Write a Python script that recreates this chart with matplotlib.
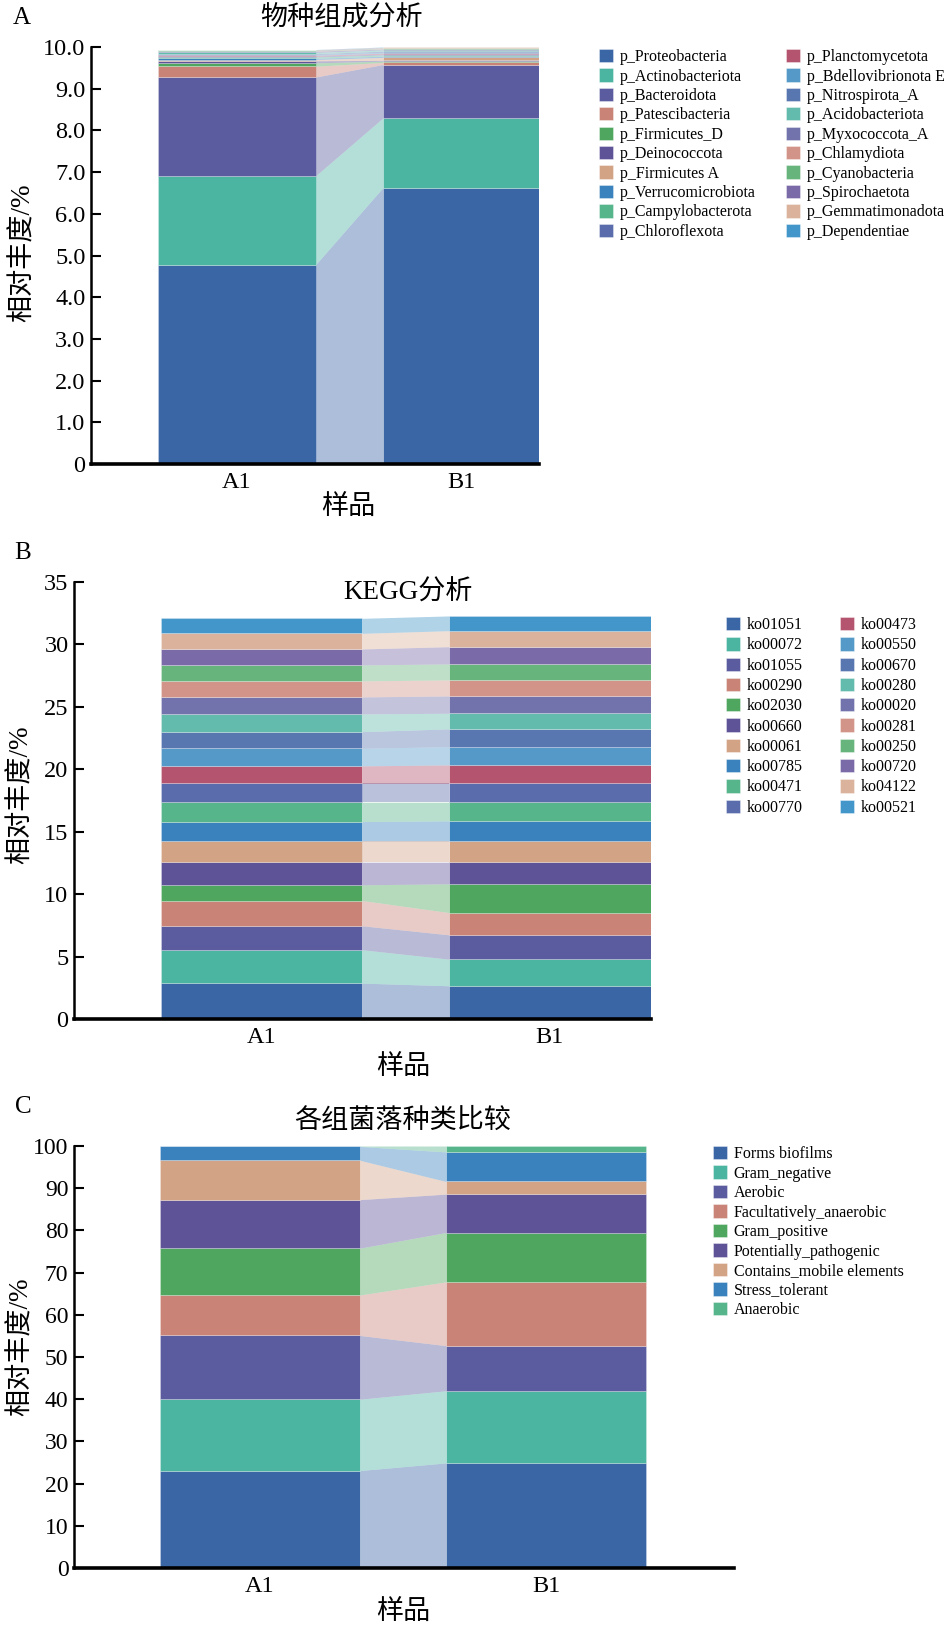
import matplotlib
matplotlib.use("Agg")
import matplotlib.pyplot as plt
from matplotlib.patches import Patch
import numpy as np

# ---------------- data ----------------
samples = ["A1", "B1"]

phyla = ["p_Proteobacteria", "p_Actinobacteriota", "p_Bacteroidota", "p_Patescibacteria",
         "p_Firmicutes_D", "p_Deinococcota", "p_Firmicutes A", "p_Verrucomicrobiota",
         "p_Campylobacterota", "p_Chloroflexota", "p_Planctomycetota", "p_Bdellovibrionota E",
         "p_Nitrospirota_A", "p_Acidobacteriota", "p_Myxococcota_A", "p_Chlamydiota",
         "p_Cyanobacteria", "p_Spirochaetota", "p_Gemmatimonadota", "p_Dependentiae"]
phyla_A1 = [4.78, 2.13, 2.37, 0.26, 0.08, 0.05, 0.03, 0.03, 0.03, 0.02,
            0.02, 0.02, 0.02, 0.03, 0.03, 0.01, 0.01, 0.01, 0.005, 0.005]
phyla_B1 = [6.63, 1.67, 1.28, 0.05, 0.03, 0.02, 0.07, 0.03, 0.03, 0.02,
            0.02, 0.02, 0.03, 0.03, 0.02, 0.01, 0.01, 0.01, 0.01, 0.01]

kegg = ["ko01051", "ko00072", "ko01055", "ko00290", "ko02030", "ko00660", "ko00061",
        "ko00785", "ko00471", "ko00770", "ko00473", "ko00550", "ko00670", "ko00280",
        "ko00020", "ko00281", "ko00250", "ko00720", "ko04122", "ko00521"]
kegg_A1 = [2.87, 2.67, 1.92, 2.02, 1.26, 1.81, 1.71, 1.54, 1.55, 1.50,
           1.41, 1.41, 1.33, 1.42, 1.36, 1.28, 1.28, 1.28, 1.25, 1.20]
kegg_B1 = [2.66, 2.13, 1.95, 1.78, 2.30, 1.73, 1.71, 1.60, 1.49, 1.50,
           1.49, 1.46, 1.42, 1.25, 1.39, 1.28, 1.28, 1.38, 1.28, 1.18]

traits = ["Forms biofilms", "Gram_negative", "Aerobic", "Facultatively_anaerobic",
          "Gram_positive", "Potentially_pathogenic", "Contains_mobile elements",
          "Stress_tolerant", "Anaerobic"]
trait_A1 = [23.1, 16.9, 15.1, 9.6, 11.1, 11.5, 9.3, 3.3, 0.1]
trait_B1 = [24.9, 17.1, 10.7, 15.1, 11.7, 9.1, 3.0, 7.0, 1.4]

A_yticks = [0, 1, 2, 3, 4, 5, 6, 7, 8, 9, 10]
A_yticklabels = ["0", "1.0", "2.0", "3.0", "4.0", "5.0", "6.0", "7.0", "8.0", "9.0", "10.0"]
B_yticks = [0, 5, 10, 15, 20, 25, 30, 35]
C_yticks = [0, 10, 20, 30, 40, 50, 60, 70, 80, 90, 100]

palette = ["#3A66A6", "#4BB5A2", "#5A5C9F", "#C98477", "#4FA65F", "#5F5398", "#D3A386",
           "#3A82BD", "#57B58C", "#5A6CAB", "#B5546E", "#5599C9", "#5877B0", "#63BBAD",
           "#7273AD", "#D29488", "#68B47D", "#7A6AA8", "#DBB39D", "#4396C9"]

# ---------------- style ----------------
SERIF = "Liberation Serif"
CJK = "Noto Sans CJK SC"
MIX = [SERIF, CJK]
plt.rcParams['font.family'] = MIX

W, H = 945, 1627
fig = plt.figure(figsize=(W / 100, H / 100), dpi=100)


def fx(px):
    return px / W


def fy(py):
    return 1 - py / H


BAR_W = 0.70


def stacked(ax, va, vb, colors):
    x = np.arange(len(samples))
    cum = np.zeros(2)
    for i in range(len(va)):
        h = np.array([va[i], vb[i]])
        ax.bar(x, h, BAR_W, bottom=cum, color=colors[i],
               edgecolor=(1, 1, 1, 0.35), linewidth=0.5, zorder=2)
        xa = x[0] + BAR_W / 2
        xb = x[1] - BAR_W / 2
        ax.fill_between([xa, xb], [cum[0], cum[1]], [cum[0] + h[0], cum[1] + h[1]],
                        color=colors[i], alpha=0.42, linewidth=0, zorder=1)
        cum = cum + h
    return x


def style_axes(ax, xlim_right, yticks, ylim_top, yticklabels=None, tick_fs=17.5):
    ax.set_xlim(-0.65, xlim_right)
    ax.set_ylim(0, ylim_top)
    for s in ["top", "right"]:
        ax.spines[s].set_visible(False)
    ax.spines["left"].set_linewidth(1.8)
    ax.spines["bottom"].set_linewidth(2.6)
    ax.set_yticks(yticks)
    if yticklabels is not None:
        ax.set_yticklabels(yticklabels)
    ax.tick_params(axis="y", direction="in", length=7, width=1.5, pad=4,
                   labelsize=tick_fs)
    ax.set_xticks(np.arange(len(samples)))
    ax.set_xticklabels(samples, fontsize=17.5, family=SERIF)
    ax.tick_params(axis="x", length=0, pad=6)
    for lab in ax.get_yticklabels():
        lab.set_family(SERIF)


def legend(names, colors, x, y, ncol, colspacing, spacing):
    handles = [Patch(facecolor=colors[i], edgecolor=(1, 1, 1, 0.5), linewidth=0.5,
                     label=names[i]) for i in range(len(names))]
    fig.legend(handles=handles, loc="upper left", bbox_to_anchor=(fx(x), fy(y)),
               ncol=ncol, frameon=False, borderpad=0, borderaxespad=0,
               handlelength=0.9, handleheight=0.9, handletextpad=0.4,
               labelspacing=spacing, columnspacing=colspacing,
               prop={"family": SERIF, "size": 11.5})


# ---------------- Panel A ----------------
axA = fig.add_axes([fx(91), fy(464), fx(539) - fx(91), (464 - 47) / H])
stacked(axA, phyla_A1, phyla_B1, palette)
style_axes(axA, 1.345, A_yticks, 10, A_yticklabels)
legend(phyla, palette, 599, 49, 2, 1.9, 0.205)
fig.text(fx(22), fy(18), "A", fontsize=18, family=SERIF, ha="center", va="center")
fig.text(fx(342), fy(19), "物种组成分析", fontsize=19.5, ha="center", va="center")
fig.text(fx(348), fy(507), "样品", fontsize=19.5, ha="center", va="center")
fig.text(fx(23), fy(253), "相对丰度/%", fontsize=19.5, rotation=90, ha="center", va="center")

# ---------------- Panel B ----------------
axB = fig.add_axes([fx(74), fy(1019), fx(651) - fx(74), (1019 - 581.7) / H])
stacked(axB, kegg_A1, kegg_B1, palette)
style_axes(axB, 1.351, B_yticks, 35)
legend(kegg, palette, 726, 617, 2, 2.3, 0.26)
fig.text(fx(23), fy(553), "B", fontsize=18, family=SERIF, ha="center", va="center")
fig.text(fx(408), fy(593), "KEGG分析", fontsize=19.5, ha="center", va="center")
fig.text(fx(403), fy(1067), "样品", fontsize=19.5, ha="center", va="center")
fig.text(fx(21), fy(795), "相对丰度/%", fontsize=19.5, rotation=90, ha="center", va="center")

# ---------------- Panel C ----------------
axC = fig.add_axes([fx(74), fy(1568), fx(734) - fx(74), (1568 - 1146) / H])
stacked(axC, trait_A1, trait_B1, palette)
style_axes(axC, 1.657, C_yticks, 100, tick_fs=17)
legend(traits, palette, 713, 1146, 1, 1.0, 0.21)
fig.text(fx(23), fy(1107), "C", fontsize=18, family=SERIF, ha="center", va="center")
fig.text(fx(403), fy(1121), "各组菌落种类比较", fontsize=19.5, ha="center", va="center")
fig.text(fx(403), fy(1612), "样品", fontsize=19.5, ha="center", va="center")
fig.text(fx(21), fy(1347), "相对丰度/%", fontsize=19.5, rotation=90, ha="center", va="center")

fig.savefig("out.png", dpi=100)
